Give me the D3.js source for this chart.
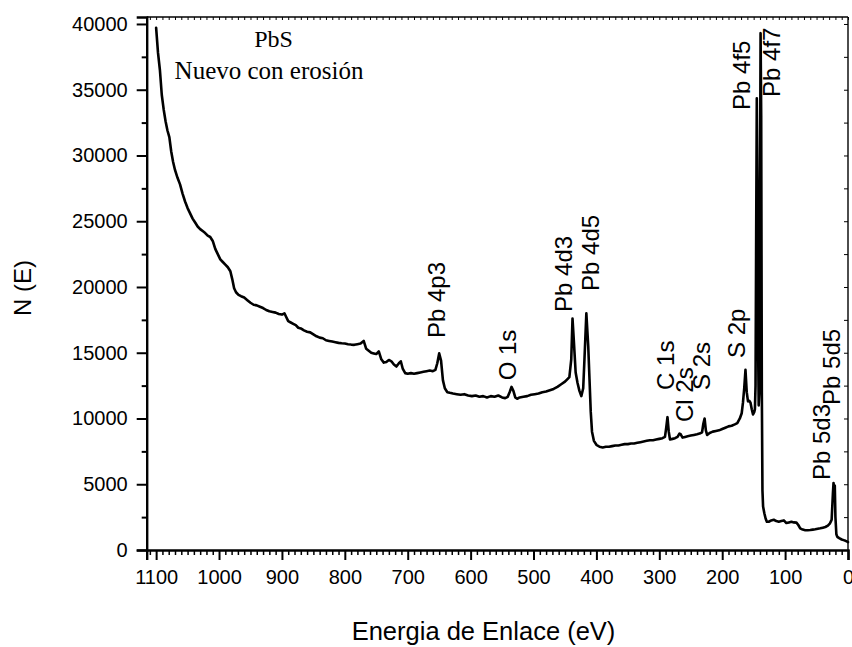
<!DOCTYPE html>
<html>
<head>
<meta charset="utf-8">
<script src="https://cdn.jsdelivr.net/npm/d3@7/dist/d3.min.js"></script>
<style>
  html, body { margin: 0; padding: 0; background: #fff; }
  svg { display: block; }
  .tick text { font-family: "Liberation Sans", Arial, sans-serif; font-size: 20px; fill: #000; }
  .axis path, .axis line { stroke: #000; }
</style>
</head>
<body>
<svg id="chart" width="852" height="647"></svg>
<script>
// XPS survey of PbS: binding energy (eV) and counts N(E)
const energy = [
  1100, 1097, 1094, 1091, 1088, 1085, 1082, 1079, 1076, 1073, 1070, 1066, 1062, 1058, 1054, 1050,
  1046, 1042, 1038, 1034, 1030, 1026, 1022, 1018, 1014, 1010, 1006, 1002, 998, 994, 990, 986,
  982, 979, 976, 973, 969, 965, 960, 955, 950, 945, 940, 935, 930, 925, 920, 915,
  910, 905, 900, 896, 893, 890, 886, 882, 878, 874, 870, 865, 860, 855, 850, 845,
  840, 835, 830, 825, 820, 815, 810, 805, 800, 795, 790, 785, 780, 775, 770, 766,
  762, 758, 754, 750, 746, 742, 738, 734, 730, 726, 722, 718, 714, 711, 708, 704,
  700, 695, 690, 685, 680, 675, 670, 665, 660, 656, 653, 650, 647, 644, 641, 637,
  633, 628, 622, 616, 610, 604, 598, 592, 586, 580, 574, 568, 562, 556, 550, 545,
  541, 538, 535, 532, 529, 526, 522, 516, 510, 504, 498, 492, 486, 480, 474, 468,
  462, 456, 450, 446, 443, 440, 438, 436, 433, 430, 427, 424, 421, 419, 416, 413,
  411, 409, 407, 404, 400, 395, 390, 385, 380, 375, 370, 365, 360, 355, 350, 345,
  340, 335, 330, 325, 320, 315, 310, 305, 300, 295, 291, 289, 287, 285, 283, 279,
  275, 271, 268, 266, 263, 259, 255, 250, 245, 240, 236, 232, 230, 228, 226, 224,
  220, 215, 210, 205, 200, 195, 190, 185, 180, 176, 172, 169, 167, 165, 163, 161,
  159, 157, 155, 153, 151, 149, 148, 147, 146, 145, 144, 143, 142, 141, 140, 139,
  138, 137, 136, 135, 133, 131, 129, 126, 122, 118, 114, 110, 106, 102, 98, 94,
  90, 86, 82, 79, 76, 72, 68, 64, 60, 56, 52, 48, 44, 40, 36, 32,
  29, 27, 26, 24, 23, 22, 21, 20, 18.5, 17, 14, 10, 7, 4, 2, 0
];
const counts = [
  39700, 37800, 36500, 34600, 33500, 32600, 31900, 31400, 30300, 29500, 28900, 28300, 27800, 27100, 26500, 26000,
  25600, 25200, 24900, 24600, 24400, 24250, 24100, 23900, 23800, 23500, 22900, 22500, 22100, 21900, 21700, 21500,
  21200, 20600, 19900, 19600, 19400, 19300, 19200, 19000, 18800, 18650, 18600, 18500, 18400, 18250, 18150, 18100,
  18050, 17950, 17900, 18000, 17700, 17400, 17300, 17200, 17100, 16900, 16850, 16700, 16600, 16550, 16400, 16250,
  16150, 16100, 15950, 15900, 15850, 15800, 15750, 15720, 15700, 15650, 15620, 15600, 15650, 15700, 15900, 15300,
  15150, 15000, 14950, 14900, 15100, 14500, 14250, 14300, 14450, 14350, 14100, 13950, 14200, 14350, 13800, 13450,
  13400, 13450, 13400, 13450, 13500, 13550, 13600, 13650, 13600, 13700, 14200, 14950, 14400, 12900, 12300, 12000,
  11950, 11900, 11850, 11800, 11850, 11750, 11700, 11750, 11650, 11700, 11600, 11700, 11650, 11750, 11600, 11550,
  11650, 12000, 12400, 12100, 11600, 11500, 11600, 11650, 11700, 11800, 11850, 11900, 12000, 12050, 12150, 12250,
  12400, 12600, 12800, 13000, 13150, 14500, 17600, 16000, 13500, 12700, 12100, 11700, 12300, 14500, 18000, 15500,
  13000, 10500, 9000, 8300, 8000, 7850, 7800, 7850, 7850, 7900, 7950, 7950, 8000, 8050, 8050, 8100,
  8100, 8150, 8200, 8250, 8300, 8350, 8350, 8400, 8450, 8500, 8600, 9300, 10100, 9000, 8400, 8450,
  8500, 8600, 8850, 8800, 8550, 8600, 8650, 8700, 8750, 8800, 8850, 8950, 9600, 10000, 9100, 8750,
  8900, 9000, 9050, 9100, 9200, 9300, 9400, 9450, 9550, 9650, 10000, 10400, 11200, 12300, 13700, 12000,
  11300, 11350, 11200, 10700, 10300, 10500, 10700, 12500, 24000, 34350, 28000, 16000, 11000, 12000, 26000, 39300,
  33000, 12000, 4500, 3300, 2800, 2400, 2150, 2150, 2250, 2300, 2200, 2150, 2200, 2250, 2050, 2100,
  2150, 2100, 2080, 1900, 1650, 1550, 1500, 1500, 1520, 1550, 1580, 1620, 1650, 1700, 1750, 1850,
  2000, 2200, 2300, 4300, 5100, 4600, 4900, 2500, 1200, 1000, 900, 800, 750, 700, 650, 600
];

// Peak assignments: text and the (energy, counts) where each label starts
const peakNames  = ["Pb 4p3", "O 1s", "Pb 4d3", "Pb 4d5", "C 1s", "Cl 2s", "S 2s", "S 2p", "Pb 4f5", "Pb 4f7", "Pb 5d3", "Pb 5d5"];
const peakLabelE = [640, 528, 439, 396, 276.6, 246.4, 219.4, 163.8, 156, 108, 28.6, 12.7];
const peakLabelN = [16120, 12900, 18100, 19700, 12170, 9730, 12170, 14600, 33460, 34450, 5320, 11030];

const xTicks = [1100, 1000, 900, 800, 700, 600, 500, 400, 300, 200, 100, 0];
const yTicks = [0, 5000, 10000, 15000, 20000, 25000, 30000, 35000, 40000];

const titleLines = ["PbS", "Nuevo con erosión"];
const xTitle = "Energia de Enlace (eV)";
const yTitle = "N (E)";

const svg = d3.select("#chart");
const plotLeft = 146.7, plotRight = 848, plotTop = 17, plotBottom = 550;

const x = d3.scaleLinear().domain([1115, 0]).range([plotLeft, plotRight]);
const y = d3.scaleLinear().domain([0, 40530]).range([plotBottom, plotTop]);

const sans = '"Liberation Sans", Arial, sans-serif';
const serif = '"Liberation Serif", "Times New Roman", serif';

// minor ticks
const xMinor = d3.range(1110, 0, -10).filter(v => v % 100 !== 0);
const yMinor = d3.range(2500, 40500, 5000);

svg.append("g").attr("class", "axis")
  .attr("transform", `translate(0,${plotBottom})`)
  .call(d3.axisBottom(x).tickValues(xMinor).tickSize(5).tickFormat(""))
  .call(g => g.select(".domain").remove())
  .call(g => g.selectAll("line").attr("stroke-width", 1.5));

svg.append("g").attr("class", "axis")
  .attr("transform", `translate(${plotLeft},0)`)
  .call(d3.axisLeft(y).tickValues(yMinor).tickSize(5).tickFormat(""))
  .call(g => g.select(".domain").remove())
  .call(g => g.selectAll("line").attr("stroke-width", 2));

// top and right frame ticks, pointing inward
svg.append("g").attr("class", "axis")
  .attr("transform", `translate(0,${plotTop})`)
  .call(d3.axisBottom(x).tickValues(d3.range(1110, -1, -10)).tickSize(3).tickFormat(""))
  .call(g => g.select(".domain").remove())
  .call(g => g.selectAll("line").attr("stroke-width", 1));

svg.append("g").attr("class", "axis")
  .attr("transform", `translate(${plotRight},0)`)
  .call(d3.axisLeft(y).tickValues(d3.range(2500, 40001, 2500)).tickSize(4).tickFormat(""))
  .call(g => g.select(".domain").remove())
  .call(g => g.selectAll("line").attr("stroke-width", 1));

// frame
svg.append("line").attr("x1", plotLeft).attr("x2", plotRight).attr("y1", plotTop).attr("y2", plotTop)
  .attr("stroke", "#000").attr("stroke-width", 1.4);
svg.append("line").attr("x1", plotRight).attr("x2", plotRight).attr("y1", plotTop).attr("y2", plotBottom)
  .attr("stroke", "#000").attr("stroke-width", 1.4);

// major axes
svg.append("g").attr("class", "axis")
  .attr("transform", `translate(0,${plotBottom})`)
  .call(d3.axisBottom(x).tickValues(xTicks).tickSize(10).tickPadding(10).tickFormat(d3.format("d")))
  .call(g => g.select(".domain").attr("stroke-width", 2.4))
  .call(g => g.selectAll("line").attr("stroke-width", 2));

svg.append("g").attr("class", "axis")
  .attr("transform", `translate(${plotLeft},0)`)
  .call(d3.axisLeft(y).tickValues(yTicks).tickSize(10).tickPadding(9).tickFormat(d3.format("d")))
  .call(g => g.select(".domain").attr("stroke-width", 2.4))
  .call(g => g.selectAll("line").attr("stroke-width", 2));

// spectrum
const pts = energy.map((e, i) => [e, counts[i]]);
const line = d3.line().x(d => x(d[0])).y(d => y(d[1]));
svg.append("path")
  .datum(pts)
  .attr("d", line)
  .attr("fill", "none")
  .attr("stroke", "#000")
  .attr("stroke-width", 2.6)
  .attr("stroke-linejoin", "round")
  .attr("stroke-linecap", "round");

// peak labels
svg.append("g").selectAll("text")
  .data(peakNames)
  .join("text")
  .attr("transform", (d, i) => `translate(${x(peakLabelE[i])},${y(peakLabelN[i])}) rotate(-90)`)
  .attr("font-family", sans)
  .attr("font-size", 24)
  .attr("fill", "#000")
  .text(d => d);

// sample title
svg.append("text").attr("x", 273.5).attr("y", 46.5)
  .attr("text-anchor", "middle").attr("font-family", serif).attr("font-size", 24)
  .text(titleLines[0]);
svg.append("text").attr("x", 269).attr("y", 79)
  .attr("text-anchor", "middle").attr("font-family", serif).attr("font-size", 25)
  .text(titleLines[1]);

// axis titles
svg.append("text").attr("x", 483.5).attr("y", 640)
  .attr("text-anchor", "middle").attr("font-family", sans).attr("font-size", 25.5)
  .text(xTitle);
svg.append("text")
  .attr("transform", "translate(30.5,288) rotate(-90)")
  .attr("text-anchor", "middle").attr("font-family", sans).attr("font-size", 24)
  .text(yTitle);
</script>
</body>
</html>
